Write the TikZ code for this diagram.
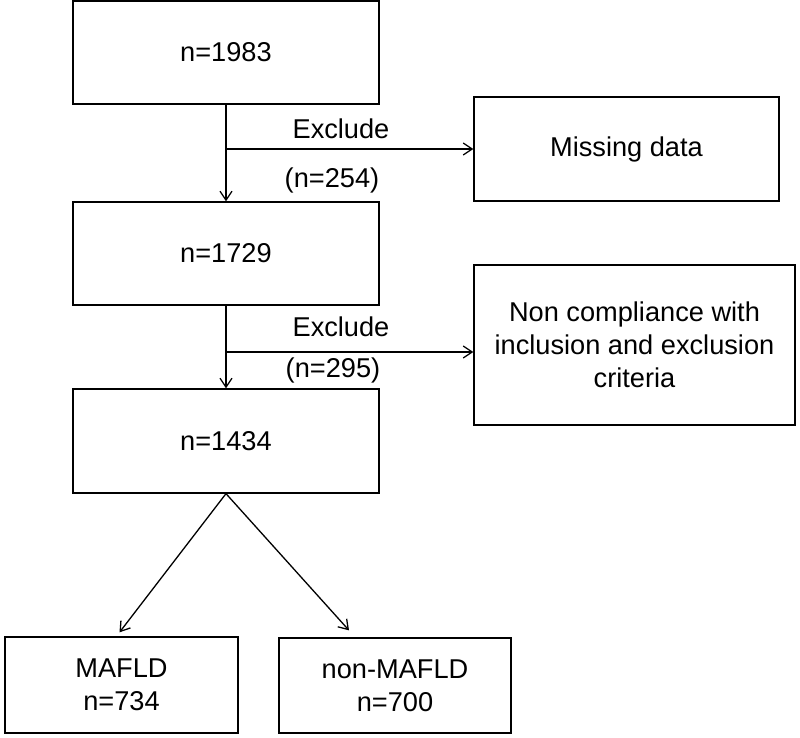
\documentclass[tikz,border=0pt]{standalone}
\usepackage{fontspec}
\setmainfont{Liberation Sans}
\usetikzlibrary{arrows.meta}

\begin{document}
\begin{tikzpicture}[x=0.5pt, y=-0.5pt, line width=0.65pt,
  every node/.style={font=\fontsize{13.6pt}{16.5pt}\selectfont},
  box/.style={rectangle, draw, line width=0.65pt, align=center, inner sep=0pt},
  lbl/.style={anchor=base, inner sep=0pt},
  >={Straight Barb[length=4.5pt,width=6pt]}]
\useasboundingbox (0,0) rectangle (800,738);
% Define the nodes
\node[box, minimum width=153pt, minimum height=51.5pt] at (226,52.5) (a) {n=1983};
\node[box, minimum width=153pt, minimum height=51.5pt] at (226,253.5) (b) {n=1729};
\node[box, minimum width=153pt, minimum height=52pt] at (226,441) (c) {n=1434};
\node[box, minimum width=152.5pt, minimum height=52pt] at (626.5,149) (miss) {Missing data};
\node[box, minimum width=160.5pt, minimum height=80pt] at (634.5,345) (crit) {Non compliance with\\inclusion and exclusion\\criteria};
\node[box, minimum width=116.5pt, minimum height=48pt] at (121.5,685) (mafld) {MAFLD\\n=734};
\node[box, minimum width=116pt, minimum height=47.5pt] at (395,685.5) (nonmafld) {non-MAFLD\\n=700};
\node[lbl] at (341,139) (ex1) {Exclude};
\node[lbl] at (332,188) (cnt1) {(n=254)};
\node[lbl] at (341,337) (ex2) {Exclude};
\node[lbl] at (333,378) (cnt2) {(n=295)};
\coordinate (j1) at (226,149);
\coordinate (j2) at (226,352);
% Draw the paths
\draw[->] (a) -- (b);
\draw[->] (j1) -- (miss);
\draw[->] (b) -- (c);
\draw[->] (j2) -- (j2 -| crit.west);
\draw[->] (c.south) -- ([shift={(-2,-4)}]mafld.north);
\draw[->] (c.south) -- ([shift={(-46,-7)}]nonmafld.north);
\end{tikzpicture}
\end{document}
